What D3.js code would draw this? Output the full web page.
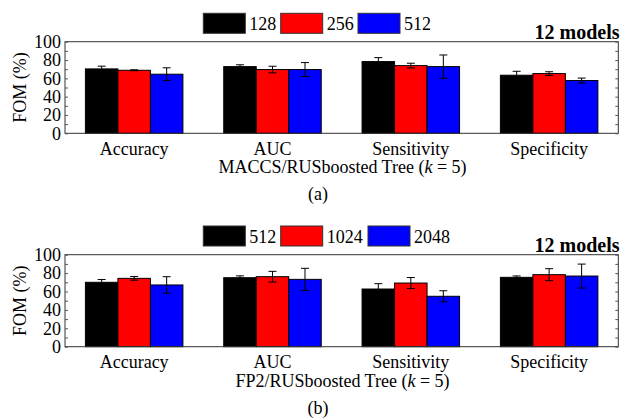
<!DOCTYPE html>
<html>
<head>
<meta charset="utf-8">
<script src="https://cdn.jsdelivr.net/npm/d3@7"></script>
</head>
<body style="margin:0;background:#fff">
<svg id="chart" width="621" height="419" style="display:block;font-family:'Liberation Serif','Times New Roman',serif"></svg>
<script>
const categories = ["Accuracy","AUC","Sensitivity","Specificity"];
const yTicks = [0,20,40,60,80,100];

const seriesA = ["128","256","512"];
const valuesA = [
  [70.3, 72.8, 78.3, 63.4],
  [68.8, 69.6, 73.9, 65.2],
  [64.5, 69.6, 72.8, 57.6]
];
const errorsA = [
  [3.0, 2.0, 4.3, 4.3],
  [0.5, 3.6, 2.6, 2.0],
  [7.0, 7.6, 12.7, 2.7]
];

const seriesB = ["512","1024","2048"];
const valuesB = [
  [70.0, 75.0, 62.7, 75.4],
  [74.3, 76.1, 69.2, 78.3],
  [67.1, 73.2, 54.8, 76.8]
];
const errorsB = [
  [3.0, 2.0, 5.8, 1.5],
  [2.0, 5.8, 6.0, 6.5],
  [9.0, 12.0, 6.0, 13.0]
];

const colors = ["#000000","#ff0000","#0000ff"];
const FONT = "'Liberation Serif', 'Times New Roman', serif";
const svg = d3.select("#chart");

function txt(g, x, y, s, size){
  return g.append("text").attr("x",x).attr("y",y)
    .style("font-family",FONT).style("font-size",size||"18px").attr("fill","#000").text(s);
}

function panel(cfg){
  const g = svg.append("g");
  const x0 = d3.scaleBand().domain(categories).range([65,618.3]).paddingInner(0).paddingOuter(0);
  const innerPad = (x0.bandwidth() - 97.5)/2;
  const x1 = d3.scaleBand().domain(cfg.series).range([innerPad, x0.bandwidth()-innerPad]);
  const y = d3.scaleLinear().domain([0,100]).range([cfg.bottom, cfg.top]);

  cfg.series.forEach((s,si)=>{
    categories.forEach((c,ci)=>{
      const v = cfg.values[si][ci], e = cfg.errors[si][ci];
      const bx = x0(c)+x1(s);
      g.append("rect").attr("x",bx).attr("y",y(v)).attr("width",x1.bandwidth()).attr("height",y(0)-y(v))
        .attr("fill",colors[si]).attr("stroke","#000").attr("stroke-width",1);
      const cx = bx + x1.bandwidth()/2;
      g.append("line").attr("x1",cx).attr("x2",cx).attr("y1",y(v+e)).attr("y2",y(v-e)).attr("stroke","#000").attr("stroke-width",1);
      [v+e, v-e].forEach(t=>{
        g.append("line").attr("x1",cx-4).attr("x2",cx+4).attr("y1",y(t)).attr("y2",y(t)).attr("stroke","#000").attr("stroke-width",1);
      });
    });
  });

  g.append("rect").attr("x",65).attr("y",cfg.top).attr("width",618.3-65).attr("height",cfg.bottom-cfg.top)
    .attr("fill","none").attr("stroke","#333").attr("stroke-width",1);

  const minor = d3.range(0,101,10);
  const la = g.append("g").attr("transform","translate(65,0)")
    .call(d3.axisLeft(y).tickValues(minor).tickSize(-3).tickFormat(d=> yTicks.includes(d)? d : ""));
  la.attr("font-family",null).attr("font-size",null);
  la.select(".domain").remove();
  la.selectAll(".tick line").attr("stroke","#555");
  la.selectAll(".tick text").attr("x",-4).style("font-family",FONT).style("font-size","18px").attr("fill","#000");
  const ra = g.append("g").attr("transform","translate(618.3,0)")
    .call(d3.axisRight(y).tickValues(minor).tickSize(-3).tickFormat(""));
  ra.select(".domain").remove();
  ra.selectAll(".tick line").attr("stroke","#555");

  categories.forEach(c=>{
    txt(g, x0(c)+x0.bandwidth()/2, cfg.bottom+21.7, c).attr("text-anchor","middle");
  });

  g.append("text").attr("transform",`translate(26,${(cfg.top+cfg.bottom)/2}) rotate(-90)`).attr("text-anchor","middle")
    .style("font-family",FONT).style("font-size","18px").text("FOM (%)");

  const st = g.append("text").attr("x",342.5).attr("y",cfg.bottom+40).attr("text-anchor","middle").style("font-family",FONT).style("font-size","18px");
  st.append("tspan").text(cfg.subtitle+" (");
  st.append("tspan").style("font-style","italic").text("k");
  st.append("tspan").text(" = 5)");

  txt(g, 318, cfg.bottom+67, cfg.tag).attr("text-anchor","middle");

  txt(g, 619.5, cfg.top-3, "12 models", "20px").attr("text-anchor","end").style("font-weight","bold");

  cfg.series.forEach((s,si)=>{
    const lx = cfg.legendX[si];
    g.append("rect").attr("x",lx).attr("y",cfg.legendY).attr("width",42).attr("height",20)
      .attr("fill",colors[si]).attr("stroke","#333").attr("stroke-width",1);
    txt(g, lx+46, cfg.legendY+17, s, "18px");
  });
}

panel({series:seriesA, values:valuesA, errors:errorsA, top:41.7, bottom:133.3, subtitle:"MACCS/RUSboosted Tree", tag:"(a)", legendY:13.3, legendX:[203.3,280.7,358]});
panel({series:seriesB, values:valuesB, errors:errorsB, top:254.7, bottom:346.7, subtitle:"FP2/RUSboosted Tree", tag:"(b)", legendY:226, legendX:[203.3,280.7,368]});
</script>
</body>
</html>
